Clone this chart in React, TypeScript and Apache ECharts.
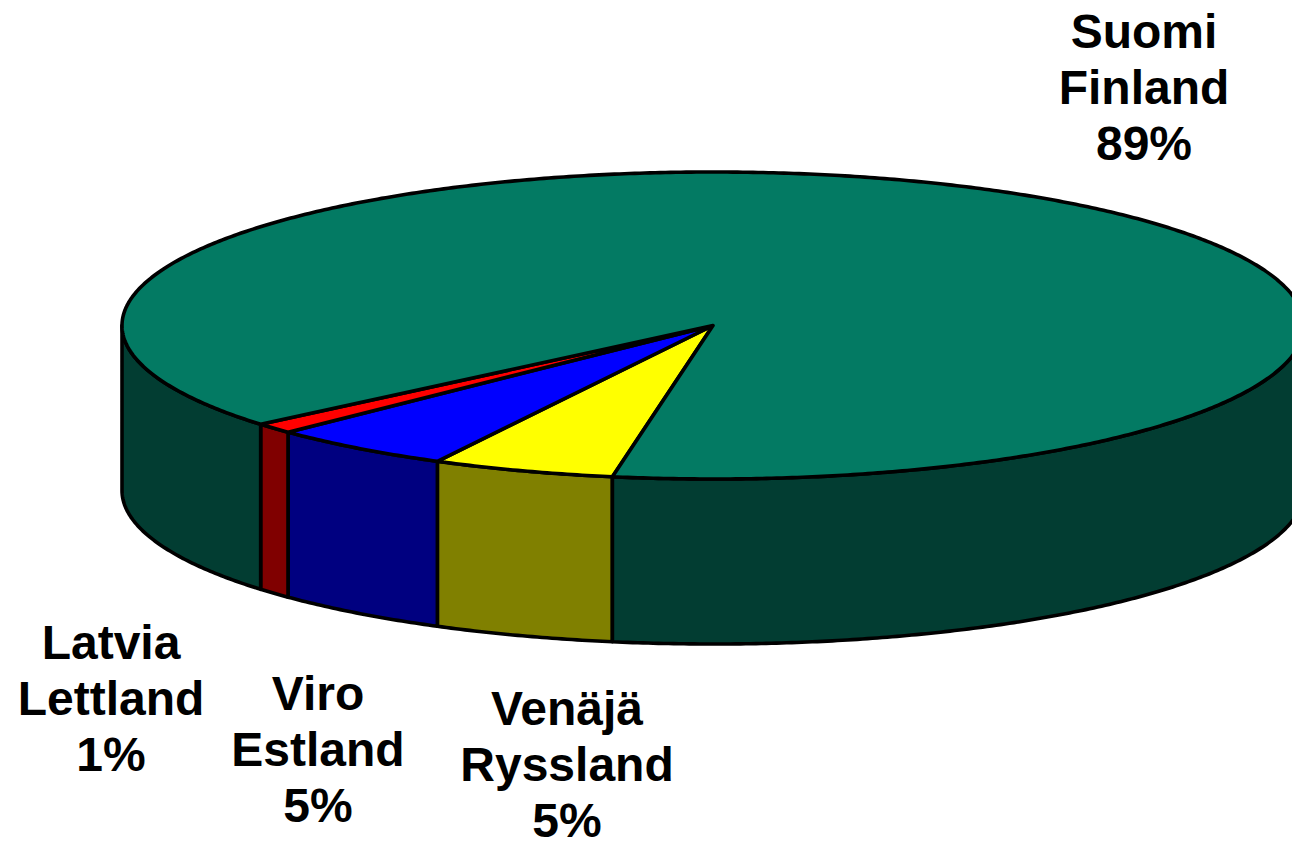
import React, { useEffect, useRef } from "react";
import * as echarts from "echarts";

const categories = ["Venäjä\nRyssland", "Viro\nEstland", "Latvia\nLettland", "Suomi\nFinland"];
const shares = [5, 5.05, 1.1, 88.85];
const topColors = ["#ffff00", "#0000ff", "#ff0000", "#037a63"];
const sideColors = ["#808000", "#000080", "#800000", "#023d32"];
const labelPositions = [
  [567, 764],
  [318, 749],
  [111, 698],
  [1144, 87],
];

const CX = 713;
const CY = 325.5;
const RX = 591;
const RY = 153.5;
const DEPTH = 165;
const START_DEG = 99.8;
const rad = (d: number) => (d * Math.PI) / 180;
const pt = (deg: number, dy = 0): number[] => [
  CX + RX * Math.cos(rad(deg)),
  CY + RY * Math.sin(rad(deg)) + dy,
];
const arc = (a: number, b: number, dy = 0) => {
  const n = Math.max(2, Math.ceil(Math.abs(b - a) / 0.5));
  const out: number[][] = [];
  for (let i = 0; i <= n; i++) out.push(pt(a + ((b - a) * i) / n, dy));
  return out;
};

const total = shares.reduce((s, v) => s + v, 0);
const stroke = { stroke: "#000", lineWidth: 3.6, lineJoin: "round" as const };

const renderItem = (params: any, api: any) => {
  const i = params.dataIndex;
  const before = shares.slice(0, i).reduce((s, v) => s + v, 0);
  const a = START_DEG + (before / total) * 360;
  const b = a + (api.value(1) / total) * 360;
  const children: any[] = [];
  // visible wall = the front half of the rim, 0..180 and 360..540 degrees
  const ranges = [
    [0, 180],
    [360, 540],
  ];
  ranges.forEach(([lo, hi]) => {
    const s = Math.max(a, lo);
    const e = Math.min(b, hi);
    if (e > s) {
      const upper = arc(s, e);
      const lower = arc(e, s, DEPTH);
      children.push({
        type: "polygon",
        shape: { points: [...upper, ...lower] },
        style: { fill: sideColors[i], ...stroke },
      });
    }
  });
  children.push({
    type: "polygon",
    shape: { points: [[CX, CY], ...arc(a, b)] },
    style: { fill: topColors[i], ...stroke },
  });
  return { type: "group", children };
};

const renderLabel = (params: any, api: any) => {
  const i = params.dataIndex;
  return {
    type: "text",
    x: labelPositions[i][0],
    y: labelPositions[i][1],
    style: {
      text: `${categories[i]}\n${Math.round(api.value(1))}%`,
      fill: "#000",
      font: 'bold 48px "Liberation Sans", Arial, sans-serif',
      lineHeight: 56,
      align: "center",
      verticalAlign: "middle",
    },
  };
};

export default function App() {
  const ref = useRef<HTMLDivElement>(null);
  useEffect(() => {
    const chart = echarts.init(ref.current!, undefined, { renderer: "svg" });
    const data = shares.map((v, i) => [i, v]);
    chart.setOption({
      animation: false,
      backgroundColor: "#ffffff",
      series: [
        { type: "custom", coordinateSystem: "none", renderItem, data, silent: true, z: 1 },
        { type: "custom", coordinateSystem: "none", renderItem: renderLabel, data, silent: true, z: 2 },
      ],
    });
    return () => chart.dispose();
  }, []);
  return (
    <div
      ref={ref}
      style={{ position: "fixed", left: 0, top: 0, width: 1292, height: 841 }}
    />
  );
}
